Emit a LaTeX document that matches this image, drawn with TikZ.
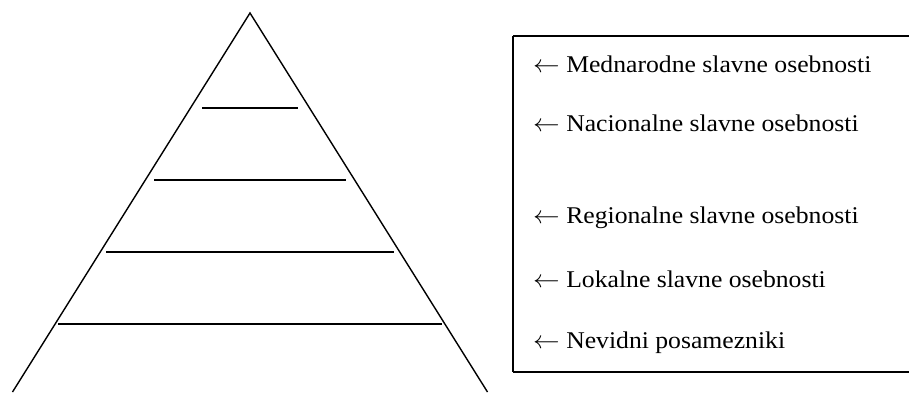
\documentclass[tikz,border=0pt]{standalone}
\usepackage{fontspec}
\setmainfont{Liberation Serif}
\usepackage{graphicx}
\newcommand{\widetext}[1]{\scalebox{1.07}[1]{#1}}
\begin{document}
\begin{tikzpicture}[x=1pt,y=-1pt,
  side/.style={line width=1.4pt},
  tier/.style={line width=1.9pt},
  legendbox/.style={line width=1.9pt,line cap=butt},
  level/.style={anchor=base west,inner sep=0pt,font=\fontsize{24}{28}\selectfont}]
  \path[use as bounding box] (0,0) rectangle (909,392);
  % pyramid outline, cut off by the lower edge
  \coordinate (apex) at (250,13);
  \coordinate (bl) at (12.5,392);
  \coordinate (br) at (487.5,392);
  \draw[side] (bl) -- (apex) -- (br);
  % tier separators
  \draw[tier] (202,108) -- (298,108);
  \draw[tier] (154,180) -- (346,180);
  \draw[tier] (106,252) -- (394,252);
  \draw[tier] (58,324) -- (442,324);
  % legend frame, open to the right: three separate strokes
  \coordinate (ftr) at (909,36);
  \coordinate (ftl) at (513,36);
  \coordinate (fbl) at (513,372);
  \coordinate (fbr) at (909,372);
  \draw[legendbox] (ftl) -- (ftr);
  \draw[legendbox] (ftl) -- (fbl);
  \draw[legendbox] (fbl) -- (fbr);
  % legend entries
  \node[level] (l1) at (533,72) {\widetext{$\leftarrow$ Mednarodne slavne osebnosti}};
  \node[level] (l2) at (533,131) {\widetext{$\leftarrow$ Nacionalne slavne osebnosti}};
  \node[level] (l3) at (533,223) {\widetext{$\leftarrow$ Regionalne slavne osebnosti}};
  \node[level] (l4) at (533,287) {\widetext{$\leftarrow$ Lokalne slavne osebnosti}};
  \node[level] (l5) at (533,348) {\widetext{$\leftarrow$ Nevidni posamezniki}};
\end{tikzpicture}
\end{document}
